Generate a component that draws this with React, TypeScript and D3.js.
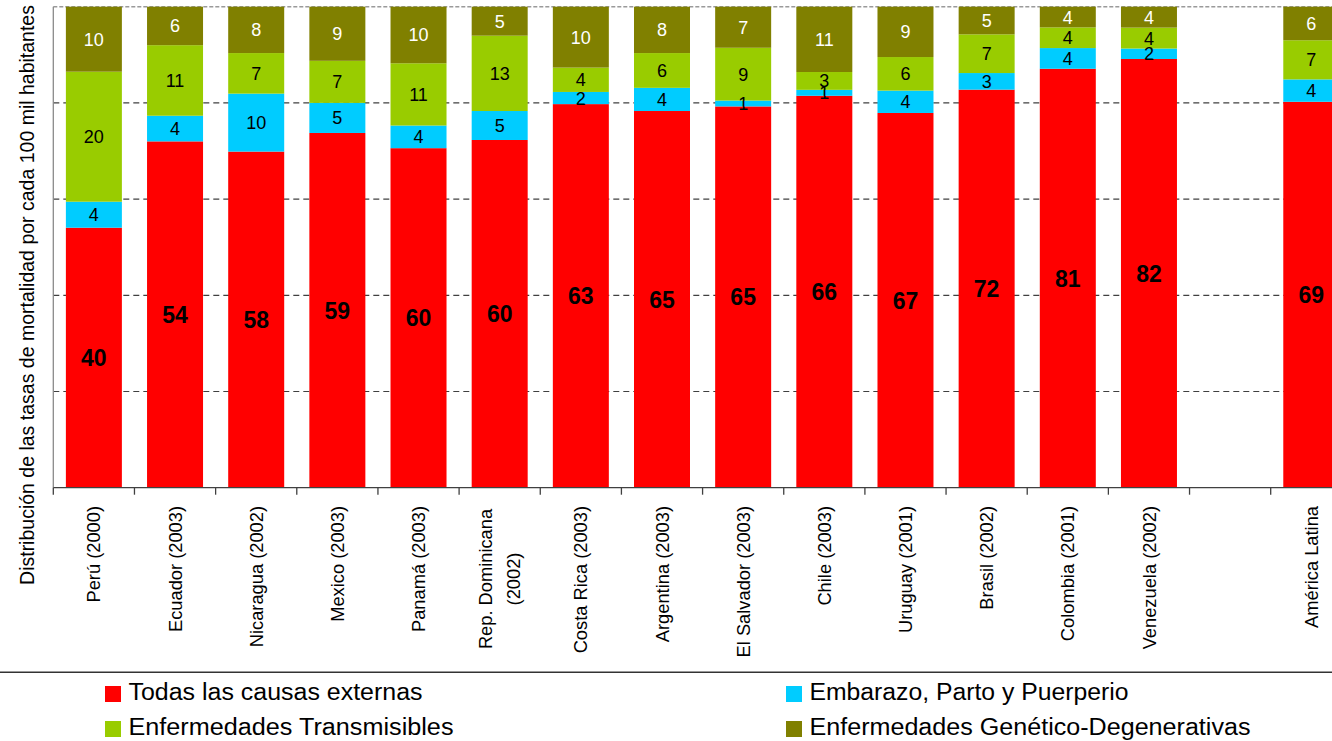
import React from "react";
import * as d3 from "d3";

const categories = [
  "Perú (2000)",
  "Ecuador (2003)",
  "Nicaragua (2002)",
  "Mexico (2003)",
  "Panamá (2003)",
  "Rep. Dominicana|(2002)",
  "Costa Rica (2003)",
  "Argentina (2003)",
  "El Salvador (2003)",
  "Chile (2003)",
  "Uruguay (2001)",
  "Brasil (2002)",
  "Colombia (2001)",
  "Venezuela (2002)",
  "",
  "América Latina",
];

const externas = [40, 54, 58, 59, 60, 60, 63, 65, 65, 66, 67, 72, 81, 82, null, 69];
const embarazo = [4, 4, 10, 5, 4, 5, 2, 4, 1, 1, 4, 3, 4, 2, null, 4];
const transmisibles = [20, 11, 7, 7, 11, 13, 4, 6, 9, 3, 6, 7, 4, 4, null, 7];
const degenerativas = [10, 6, 8, 9, 10, 5, 10, 8, 7, 11, 9, 5, 4, 4, null, 6];

const seriesNames = [
  "Todas las causas externas",
  "Embarazo, Parto y Puerperio",
  "Enfermedades Transmisibles",
  "Enfermedades Genético-Degenerativas",
];
const seriesColors = ["#FF0000", "#00CCFF", "#99CC00", "#808000"];
const gridTicks = [0.2, 0.4, 0.6, 0.8];
const yTitle = "Distribución de las tasas de mortalidad por cada 100 mil habitantes";

const FONT = "'Liberation Sans', Arial, Helvetica, sans-serif";

export default function App() {
  const W = 1332;
  const H = 741;
  const left = 53.3;
  const step = 81.16;
  const top = 6.7;
  const bottom = 487.7;

  const keys = categories.map((c, i) => `k${i}`);
  const x = d3
    .scaleBand<string>()
    .domain(keys)
    .range([left, left + step * keys.length])
    .paddingInner(0.31)
    .paddingOuter(0.155);
  const y = d3.scaleLinear().domain([0, 1]).range([bottom, top]);

  const rows = categories.map((c, i) => ({
    key: keys[i],
    label: c,
    s0: externas[i],
    s1: embarazo[i],
    s2: transmisibles[i],
    s3: degenerativas[i],
  }));
  const valid = rows.filter((r) => r.s0 != null);
  const stack = d3
    .stack<any>()
    .keys(["s0", "s1", "s2", "s3"])
    .offset(d3.stackOffsetExpand);
  const stacked = stack(valid as any);

  const tickXs = d3.range(0, keys.length + 1).map((i) => left + i * step);
  const legendLengths = [294, 319, 325, 441];

  return (
    <svg
      width={W}
      height={H}
      style={{ position: "absolute", left: 0, top: 0, background: "#fff" }}
      fontFamily={FONT}
    >
      {/* grid lines */}
      {gridTicks.map((t) => (
        <line
          key={t}
          x1={left}
          x2={W}
          y1={y(t)}
          y2={y(t)}
          stroke="#404040"
          strokeWidth={1.2}
          strokeDasharray="6,4"
        />
      ))}
      {/* top border */}
      <line x1={left} x2={W} y1={top} y2={top} stroke="#9a9a9a" strokeWidth={1.5} strokeDasharray="4,2" />
      {/* left axis */}
      <line x1={left} x2={left} y1={top} y2={bottom} stroke="#8a8a8a" strokeWidth={1.3} />

      {/* bars */}
      {stacked.map((layer, li) =>
        layer.map((d: any) => (
          <rect
            key={`${li}-${d.data.key}`}
            x={x(d.data.key)}
            width={x.bandwidth()}
            y={y(d[1])}
            height={y(d[0]) - y(d[1])}
            fill={seriesColors[li]}
          />
        ))
      )}

      {/* value labels */}
      {stacked.map((layer, li) =>
        layer.map((d: any) => {
          const v = d.data[`s${li}`];
          const cx = (x(d.data.key) as number) + x.bandwidth() / 2;
          const cy = (y(d[0]) + y(d[1])) / 2;
          return (
            <text
              key={`t${li}-${d.data.key}`}
              x={cx}
              y={cy}
              dy="0.36em"
              textAnchor="middle"
              fontSize={li === 0 ? 23 : 18}
              fontWeight={li === 0 ? "bold" : "normal"}
              fill={li === 3 ? "#ffffff" : "#000000"}
            >
              {v}
            </text>
          );
        })
      )}

      {/* bottom axis */}
      <line x1={left} x2={W} y1={bottom} y2={bottom} stroke="#404040" strokeWidth={1.3} />
      {tickXs.map((tx, i) => (
        <line key={`tk${i}`} x1={tx} x2={tx} y1={bottom} y2={bottom + 7} stroke="#404040" strokeWidth={1.3} />
      ))}

      {/* x labels */}
      {rows.map((r) => {
        const cx = (x(r.key) as number) + x.bandwidth() / 2;
        const lines = r.label ? r.label.split("|") : [];
        const lh = 28;
        return lines.map((ln, j) => {
          const off = (j - (lines.length - 1) / 2) * lh;
          return (
            <text
              key={`xl${r.key}-${j}`}
              transform={`translate(${cx + off},${506}) rotate(-90)`}
              dy="0.36em"
              textAnchor={lines.length > 1 ? "middle" : "end"}
              x={lines.length > 1 ? -73 : 0}
              fontSize={18.3}
              fill="#000"
            >
              {ln}
            </text>
          );
        });
      })}

      {/* y title */}
      <text
        transform={`translate(33.5,295) rotate(-90)`}
        textAnchor="middle"
        fontSize={19.5}
        fill="#000"
      >
        {yTitle}
      </text>

      {/* legend */}
      <line x1={0} x2={W} y1={672.3} y2={672.3} stroke="#333" strokeWidth={1.5} />
      {seriesNames.map((name, i) => {
        const col = i % 2;
        const row = Math.floor(i / 2);
        const lx = col === 0 ? 105 : 786;
        const ly = 686 + row * 35;
        return (
          <g key={name}>
            <rect x={lx} y={ly} width={16} height={16} fill={seriesColors[i]} />
            <text
              x={lx + 23.5}
              y={ly + 14}
              fontSize={23.5}
              fill="#000"
              textLength={legendLengths[i]}
              lengthAdjust="spacingAndGlyphs"
            >
              {name}
            </text>
          </g>
        );
      })}
    </svg>
  );
}
